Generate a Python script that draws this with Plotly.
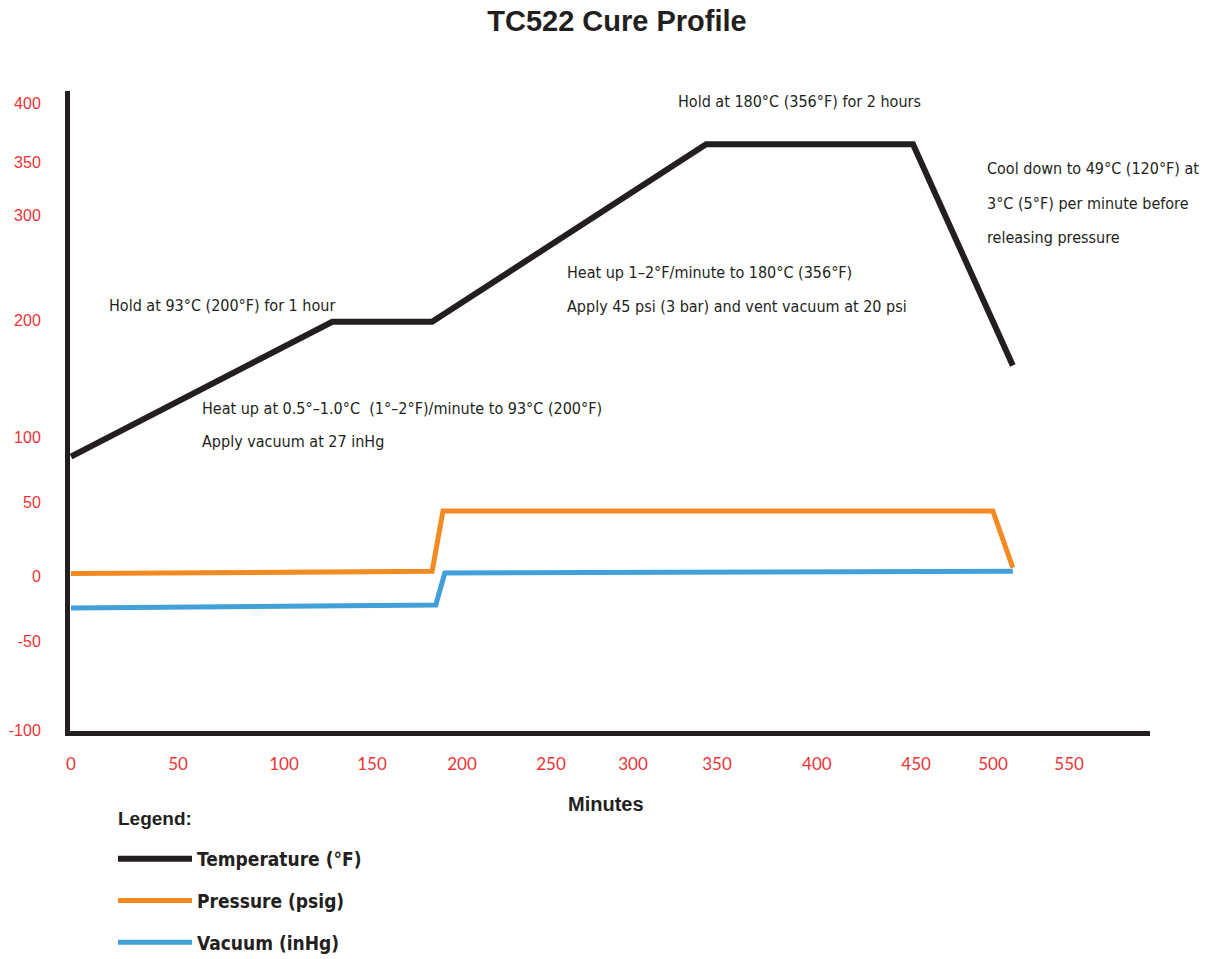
import plotly.graph_objects as go

# Cure profile (in the chart's own axis units)
minutes_temp = [0, 144, 199, 350, 464, 519]
temperature = [101, 215, 215, 365, 365, 178]

minutes_press = [0, 199, 205, 508, 519]
pressure = [2, 4, 55, 55, 7]

minutes_vac = [0, 201, 206, 519]
vacuum = [-27, -24.5, 2.5, 4]

# tick labels as printed on the chart
x_tick_text = ["0", "50", "100", "150", "200", "250", "300", "350", "400", "450", "500", "550"]
y_tick_text = ["400", "350", "300", "200", "100", "50", "0", "-50", "-100"]
# where the labels sit along each axis
x_tick_pos = [0, 59, 117.4, 165.9, 215.5, 264.5, 309.7, 356, 411, 465.7, 508.1, 550]
y_tick_pos = [400, 350, 305.3, 216.5, 117.5, 62.6, 0, -55, -131]

notes = [
    ("Hold at 93°C (200°F) for 1 hour", 107, 305),
    ("Heat up at 0.5°–1.0°C  (1°–2°F)/minute to 93°C (200°F)", 200, 408),
    ("Apply vacuum at 27 inHg", 200, 441),
    ("Hold at 180°C (356°F) for 2 hours", 676, 101),
    ("Heat up 1–2°F/minute to 180°C (356°F)", 565, 272),
    ("Apply 45 psi (3 bar) and vent vacuum at 20 psi", 565, 306),
    ("Cool down to 49°C (120°F) at", 985, 169),
    ("3°C (5°F) per minute before", 985, 203),
    ("releasing pressure", 985, 237),
]

DARK = "#231f20"
RED = "#ed3237"
NARROW = "Liberation Sans Narrow, DejaVu Sans Condensed, Arial Narrow, sans-serif"
ARIAL = "Liberation Sans, Arial, sans-serif"

# plot area in pixels (axis lines are drawn just outside it)
L, R, T, B = 70, 1150, 91, 731


def px_to_paper(px, py):
    return (px - L) / (R - L), (B - py) / (B - T)


fig = go.Figure()
fig.add_trace(go.Scatter(x=minutes_temp, y=temperature, mode="lines",
                         name="Temperature (°F)", legendgroup="t",
                         line=dict(color=DARK, width=6)))
fig.add_trace(go.Scatter(x=minutes_press, y=pressure, mode="lines",
                         name="Pressure (psig)", legendgroup="p",
                         line=dict(color="#f58a23", width=5)))
fig.add_trace(go.Scatter(x=minutes_vac, y=vacuum, mode="lines",
                         name="Vacuum (inHg)", legendgroup="v",
                         line=dict(color="#41a0d8", width=5)))

for text, px, py in notes:
    ax, ay = px_to_paper(px, py)
    fig.add_annotation(text=text, x=ax, y=ay, xref="paper", yref="paper",
                       xanchor="left", yanchor="middle", showarrow=False,
                       font=dict(family=NARROW, size=16, color=DARK))

mx, my = px_to_paper(606, 804)
fig.add_annotation(text="<b>Minutes</b>", x=mx, y=my, xref="paper", yref="paper",
                   xanchor="center", yanchor="middle", showarrow=False,
                   font=dict(family=ARIAL, size=20, color=DARK))

gx, gy = px_to_paper(116, 818)
fig.add_annotation(text="<b>Legend:</b>", x=gx, y=gy, xref="paper", yref="paper",
                   xanchor="left", yanchor="middle", showarrow=False,
                   font=dict(family=ARIAL, size=19, color=DARK))

lx, ly = px_to_paper(113, 840)
fig.update_layout(
    width=1205, height=959,
    margin=dict(l=L, r=1205 - R, t=T, b=959 - B, autoexpand=False),
    paper_bgcolor="white", plot_bgcolor="white",
    title=dict(text="<b>TC522 Cure Profile</b>", x=617 / 1205, xanchor="center",
               y=1 - 21 / 959, yanchor="middle",
               font=dict(family=ARIAL, size=29, color=DARK)),
    showlegend=True,
    legend=dict(x=lx, y=ly, xanchor="left", yanchor="top",
                font=dict(family=NARROW, size=19, color=DARK, weight="bold"),
                itemwidth=74, tracegroupgap=14, bgcolor="rgba(0,0,0,0)"),
)
fig.update_xaxes(range=[-0.55, 594.6], showgrid=False, zeroline=False, automargin=False,
                 showline=True, linewidth=5, linecolor=DARK,
                 tickmode="array", tickvals=x_tick_pos, ticktext=x_tick_text,
                 ticks="", ticklabelstandoff=14,
                 tickfont=dict(family="Lato, Carlito, sans-serif", size=17, color=RED))
fig.update_yaxes(range=[-131.1, 410.1], showgrid=False, zeroline=False, automargin=False,
                 showline=True, linewidth=5, linecolor=DARK,
                 tickmode="array", tickvals=y_tick_pos, ticktext=y_tick_text,
                 ticks="", ticklabelstandoff=21,
                 tickfont=dict(family=ARIAL, size=16, color=RED))

# drop the browser's default page margin so the figure sits at the top-left corner
fig.write_html("out.html", config={"displayModeBar": False},
               post_script="document.body.style.margin = '0';")
